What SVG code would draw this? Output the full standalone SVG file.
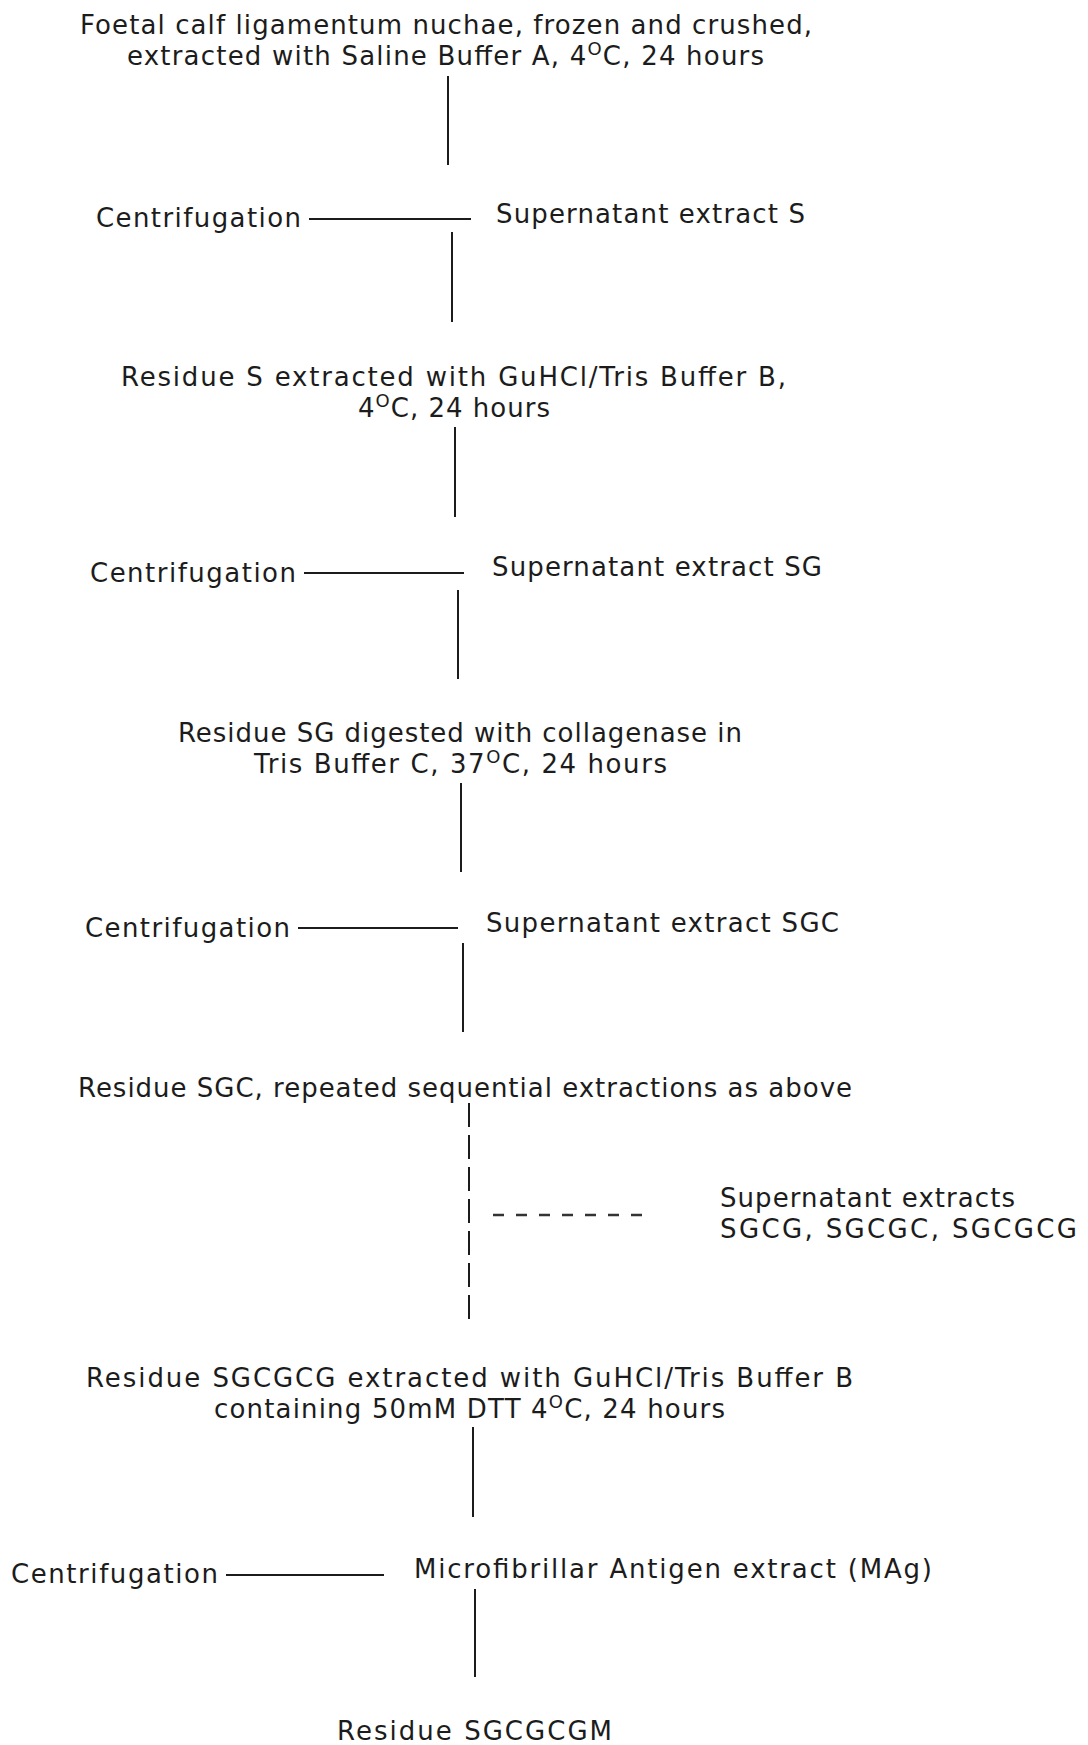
<svg xmlns="http://www.w3.org/2000/svg" width="1088" height="1745" viewBox="0 0 1088 1745">
<style>
text{font-family:"DejaVu Sans","Liberation Sans",sans-serif;font-size:26px;fill:#1c1c1c;}
.sup{font-size:18px;}
.ln{stroke:#1c1c1c;stroke-width:2;fill:none;}
.dv{stroke:#1c1c1c;stroke-width:2;fill:none;stroke-dasharray:24 8;}
.dh{stroke:#333;stroke-width:2.5;fill:none;stroke-dasharray:11 12;}
</style>
<rect width="1088" height="1745" fill="#fff"/>
<g id="connectors">
<line class="ln" x1="448" y1="76" x2="448" y2="165"/>
<line class="ln" x1="309" y1="219" x2="471" y2="219"/>
<line class="ln" x1="452" y1="232" x2="452" y2="322"/>
<line class="ln" x1="455" y1="427" x2="455" y2="517"/>
<line class="ln" x1="304" y1="573" x2="464" y2="573"/>
<line class="ln" x1="458" y1="590" x2="458" y2="679"/>
<line class="ln" x1="461" y1="783" x2="461" y2="872"/>
<line class="ln" x1="298" y1="928" x2="458" y2="928"/>
<line class="ln" x1="463" y1="943" x2="463" y2="1032"/>
<line class="dv" x1="469" y1="1103" x2="469" y2="1324"/>
<line class="dh" x1="493" y1="1215" x2="642" y2="1215"/>
<line class="ln" x1="473" y1="1427" x2="473" y2="1517"/>
<line class="ln" x1="226" y1="1575" x2="384" y2="1575"/>
<line class="ln" x1="475" y1="1589" x2="475" y2="1677"/>
</g>
<g id="start">
<text x="80" y="34" textLength="732">Foetal calf ligamentum nuchae, frozen and crushed,</text>
<text x="127" y="65" textLength="637">extracted with Saline Buffer A, 4<tspan class="sup" dy="-10">O</tspan><tspan dy="10">C, 24 hours</tspan></text>
</g>
<g id="centrifugation1"><text x="96" y="227" textLength="205">Centrifugation</text></g>
<g id="supernatantS"><text x="496" y="223" textLength="309">Supernatant extract S</text></g>
<g id="residueS">
<text x="121" y="386" textLength="665">Residue S extracted with GuHCl/Tris Buffer B,</text>
<text x="358" y="417" textLength="192">4<tspan class="sup" dy="-10">O</tspan><tspan dy="10">C, 24 hours</tspan></text>
</g>
<g id="centrifugation2"><text x="90" y="582" textLength="206">Centrifugation</text></g>
<g id="supernatantSG"><text x="492" y="576" textLength="330">Supernatant extract SG</text></g>
<g id="residueSG">
<text x="178" y="742" textLength="564">Residue SG digested with collagenase in</text>
<text x="254" y="773" textLength="413">Tris Buffer C, 37<tspan class="sup" dy="-10">O</tspan><tspan dy="10">C, 24 hours</tspan></text>
</g>
<g id="centrifugation3"><text x="85" y="937" textLength="205">Centrifugation</text></g>
<g id="supernatantSGC"><text x="486" y="932" textLength="353">Supernatant extract SGC</text></g>
<g id="residueSGC"><text x="78" y="1097" textLength="774">Residue SGC, repeated sequential extractions as above</text></g>
<g id="supernatantExtracts">
<text x="720" y="1207" textLength="295">Supernatant extracts</text>
<text x="720" y="1238" textLength="357">SGCG, SGCGC, SGCGCG</text>
</g>
<g id="residueSGCGCG">
<text x="86" y="1387" textLength="767">Residue SGCGCG extracted with GuHCl/Tris Buffer B</text>
<text x="214" y="1418" textLength="511">containing 50mM DTT 4<tspan class="sup" dy="-10">O</tspan><tspan dy="10">C, 24 hours</tspan></text>
</g>
<g id="centrifugation4"><text x="11" y="1583" textLength="207">Centrifugation</text></g>
<g id="mag"><text x="414" y="1578" textLength="518">Microfibrillar Antigen extract (MAg)</text></g>
<g id="residueSGCGCGM"><text x="337" y="1740" textLength="275">Residue SGCGCGM</text></g>
</svg>
